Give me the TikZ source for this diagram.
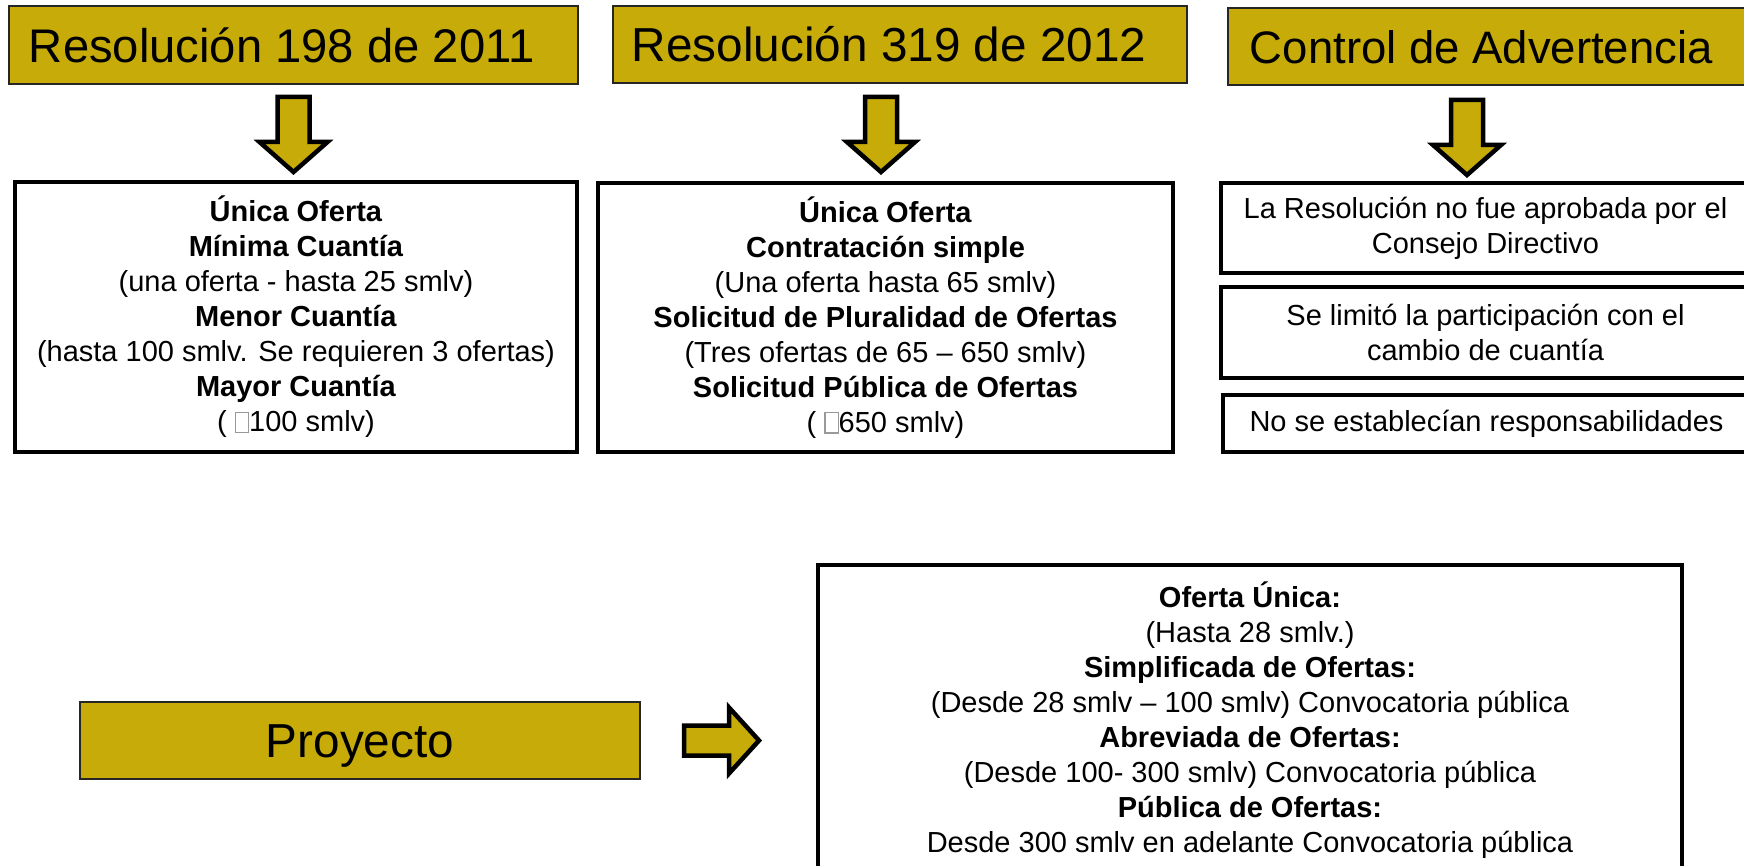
\documentclass[tikz,border=0pt]{standalone}
\usepackage{fontspec}
\setmainfont{Liberation Sans}
\definecolor{gold}{RGB}{199,172,9}
\newcommand\tofubox{{\color{black!40}\fboxsep=0pt\fboxrule=1.2pt\fbox{\rule{0pt}{19pt}\hspace{12pt}}}}
\begin{document}
\begin{tikzpicture}[x=1pt,y=-1pt,
  titlebox/.style={draw=black!85, line width=2.5pt, fill=gold, inner sep=0pt},
  titletext/.style={text height=33pt, text depth=0pt, inner sep=0pt},
  cbox/.style={draw=black, line width=4pt, fill=white, inner sep=0pt, align=center, font=\fontsize{29}{35}\selectfont},
  blockarrow/.style={draw=black, line width=4.5pt, fill=gold, line join=miter, miter limit=10},
  pics/dnarrow/.style={code={\draw[blockarrow] (-16,0) -- (16,0) -- (16,45) -- (34,45) -- (0,75) -- (-34,45) -- (-16,45) -- cycle;}},
  pics/rtarrow/.style={code={\draw[blockarrow] (0,-15) -- (0,15) -- (45,15) -- (45,33) -- (75,0) -- (45,-33) -- (45,-15) -- cycle;}}
]
\useasboundingbox (0,0) rectangle (1744,866);

% title boxes
\node[titlebox, minimum width=569pt, minimum height=78pt] (t1) at (293.5,45) {};
\node[titletext, font=\fontsize{47.2}{50}\selectfont, anchor=west] (t1l) at ([xshift=21pt,yshift=-1pt]t1.west) {Resolución 198 de 2011};
\node[titlebox, minimum width=574pt, minimum height=77pt] (t2) at (900,44.5) {};
\node[titletext, font=\fontsize{47.7}{50}\selectfont, anchor=west] (t2l) at ([xshift=20pt,yshift=-1pt]t2.west) {Resolución 319 de 2012};
\node[titlebox, minimum width=522pt, minimum height=77pt] (t3) at (1489,46.5) {};
\node[titletext, font=\fontsize{45.5}{50}\selectfont, anchor=west] (t3l) at ([xshift=23pt,yshift=-1pt]t3.west) {Control de Advertencia};

% down arrows
\pic (a1) at (293.5,97) {dnarrow};
\pic (a2) at (881,97) {dnarrow};
\pic (a3) at (1467,100) {dnarrow};

% content boxes
\node[cbox, minimum width=562pt, minimum height=270pt] (c1) at (296,317) {%
\textbf{Única Oferta}\\
\textbf{Mínima Cuantía}\\
(una oferta - hasta 25 smlv)\\
\textbf{Menor Cuantía}\\
(hasta 100 smlv. Se requieren 3 ofertas)\\
\textbf{Mayor Cuantía}\\
( \tofubox100 smlv)};

\node[cbox, minimum width=575pt, minimum height=269pt] (c2) at (885.5,317.5) {%
\textbf{Única Oferta}\\
\textbf{Contratación simple}\\
(Una oferta hasta 65 smlv)\\
\textbf{Solicitud de Pluralidad de Ofertas}\\
(Tres ofertas de 65 – 650 smlv)\\
\textbf{Solicitud Pública de Ofertas}\\
( \tofubox650 smlv)};

\node[cbox, minimum width=529pt, minimum height=90pt] (r1) at (1485.5,228) {La Resolución no fue aprobada por el\\Consejo Directivo};
\node[cbox, minimum width=529pt, minimum height=91pt] (r2) at (1485.5,332.5) {Se limitó la participación con el\\cambio de cuantía};
\node[cbox, minimum width=527pt, minimum height=57pt] (r3) at (1486.5,423.5) {No se establecían responsabilidades};

% bottom
\node[titlebox, line width=2pt, minimum width=560pt, minimum height=77pt] (p) at (360,740.5) {};
\node[titletext, font=\fontsize{47.7}{50}\selectfont] (pl) at (p.center) {Proyecto};
\pic (a4) at (684,740.5) {rtarrow};
\node[cbox, minimum width=864pt, minimum height=310pt] (b) at (1250,720) {%
\textbf{Oferta Única:}\\
(Hasta 28 smlv.)\\
\textbf{Simplificada de Ofertas:}\\
(Desde 28 smlv – 100 smlv) Convocatoria pública\\
\textbf{Abreviada de Ofertas:}\\
(Desde 100- 300 smlv) Convocatoria pública\\
\textbf{Pública de Ofertas:}\\
Desde 300 smlv en adelante Convocatoria pública};
\end{tikzpicture}
\end{document}
